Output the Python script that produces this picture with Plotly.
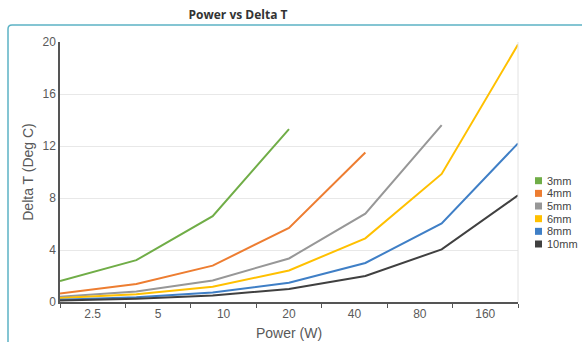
import plotly.graph_objects as go

# Power steps (W) shown as category labels along the x axis
power_labels = ["2.5", "5", "10", "20", "40", "80", "160"]

# Delta T (Deg C) for each heat-sink thickness, one value per power step
series_names = ["3mm", "4mm", "5mm", "6mm", "8mm", "10mm"]
dt_3mm = [1.62, 3.22, 6.6, 13.3]
dt_4mm = [0.66, 1.38, 2.8, 5.7, 11.5]
dt_5mm = [0.40, 0.80, 1.65, 3.35, 6.8, 13.6]
dt_6mm = [0.30, 0.60, 1.18, 2.42, 4.9, 9.85, 19.8]
dt_8mm = [0.18, 0.36, 0.74, 1.48, 3.0, 6.05, 12.2]
dt_10mm = [0.12, 0.25, 0.50, 1.0, 2.0, 4.05, 8.2]

series_values = [dt_3mm, dt_4mm, dt_5mm, dt_6mm, dt_8mm, dt_10mm]
series_colors = ["#70ad47", "#ed7d31", "#979797", "#ffc000", "#3f7fc6", "#404040"]

W, H = 582, 342
L, R, T, B = 60, 64, 42, 40
PW, PH = W - L - R, H - T - B


def px(x):
    """Pixel x -> paper x."""
    return (x - L) / PW


def py(y):
    """Pixel y -> paper y."""
    return (H - B - y) / PH


fig = go.Figure()

# Data lines: points run edge to edge across the plot (step index on a linear axis)
for name, vals, col in zip(series_names, series_values, series_colors):
    fig.add_trace(go.Scatter(
        x=list(range(len(vals))), y=vals, mode="lines", name=name,
        line=dict(color=col, width=2), showlegend=False, hoverinfo="skip",
        xaxis="x", yaxis="y",
    ))

# Category axis carrying the power labels between boundary ticks
fig.add_trace(go.Scatter(
    x=power_labels, y=[None] * len(power_labels), mode="lines",
    showlegend=False, hoverinfo="skip", xaxis="x2", yaxis="y",
))

axis_font = dict(family="Liberation Sans, Arial, sans-serif", size=12, color="#5a5a5a")
title_font = dict(family="Liberation Sans, Arial, sans-serif", size=14, color="#595959")

shapes = []
# Rounded outer frame
shapes.append(dict(
    type="path", xref="paper", yref="paper",
    path=(f"M {px(8)},{py(350)} L {px(8)},{py(29)} "
          f"Q {px(8)},{py(25)} {px(12)},{py(25)} L {px(590)},{py(25)}"),
    line=dict(color="#5cb3c5", width=1.5),
))
# Light right-hand border of the plot area
shapes.append(dict(type="line", xref="paper", yref="paper", x0=1, x1=1, y0=0, y1=1,
                   line=dict(color="#e2e2e2", width=1)))

# Legend: colored squares with labels
annotations = []
for i, (name, col) in enumerate(zip(series_names, series_colors)):
    yc = 180.7 + i * 12.66
    shapes.append(dict(type="rect", xref="paper", yref="paper",
                       x0=px(535), x1=px(542), y0=py(yc + 3.5), y1=py(yc - 3.5),
                       fillcolor=col, line=dict(width=0)))
    annotations.append(dict(text=name, xref="paper", yref="paper",
                            x=px(546), y=py(yc), xanchor="left", yanchor="middle",
                            showarrow=False, borderpad=0,
                            font=dict(family="Liberation Sans, Arial, sans-serif",
                                      size=11, color="#444444")))

fig.update_layout(
    width=W, height=H,
    margin=dict(l=L, r=R, t=T, b=B, autoexpand=False),
    paper_bgcolor="white", plot_bgcolor="white",
    showlegend=False,
    title=dict(text="<b>Power vs Delta T</b>", x=px(238), xref="paper", xanchor="center",
               y=1 - 15 / H, yref="container", yanchor="middle",
               font=dict(family="Open Sans, sans-serif", size=12, color="#333333")),
    xaxis=dict(type="linear", range=[0, 6], showticklabels=False, showgrid=False,
               zeroline=False, showline=False, ticks="", automargin=False),
    xaxis2=dict(type="category", overlaying="x", anchor="y", side="bottom",
                categoryorder="array", categoryarray=power_labels,
                range=[-0.5, len(power_labels) - 0.5], tickson="boundaries",
                ticks="outside", ticklen=4, tickcolor="#555555", tickwidth=1,
                showline=True, linecolor="#555555", linewidth=1.5, showgrid=False,
                tickfont=axis_font, automargin=False,
                title=dict(text="Power (W)", font=title_font, standoff=8)),
    yaxis=dict(range=[0, 20], dtick=4, showgrid=True, gridcolor="#e8e8e8", gridwidth=1,
               zeroline=False, showline=True, linecolor="#555555", linewidth=1.5,
               ticks="", tickfont=axis_font, automargin=False,
               title=dict(text="Delta T (Deg C)", font=title_font, standoff=6)),
    shapes=shapes,
    annotations=annotations,
)

fig.write_html("out.html")
